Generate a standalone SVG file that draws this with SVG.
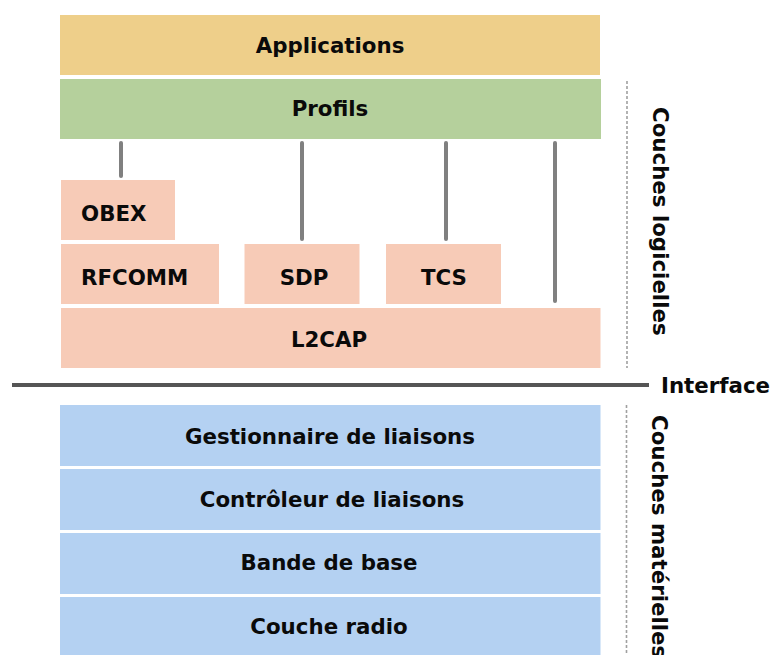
<svg xmlns="http://www.w3.org/2000/svg" width="773" height="655" viewBox="0 0 773 655">
<style>
text{font-family:"DejaVu Sans","Noto Sans",sans-serif;font-weight:bold;font-size:21.33px;fill:#0a0a0a}
.c{text-anchor:middle}
.app{fill:#eecf8a}
.prof{fill:#b5d09c}
.proto{fill:#f7cbb7}
.hw{fill:#b4d1f2}
.conn{stroke:#808080;stroke-width:4;stroke-linecap:round}
.dash{stroke:#a0a0a0;stroke-width:1.6;stroke-dasharray:3,2;fill:none}
</style>
<rect width="773" height="655" fill="#ffffff"/>
<g id="applications"><rect class="app" x="60" y="15" width="540" height="60"/><text class="c" x="330" y="53">Applications</text></g>
<g id="profils"><rect class="prof" x="60" y="79" width="541" height="60"/><text class="c" x="330" y="116">Profils</text></g>
<g id="connectors">
<line class="conn" x1="121" y1="143" x2="121" y2="176"/>
<line class="conn" x1="302" y1="143" x2="302" y2="239"/>
<line class="conn" x1="446" y1="143" x2="446" y2="239"/>
<line class="conn" x1="555" y1="143" x2="555" y2="301"/>
</g>
<g id="obex"><rect class="proto" x="61" y="180" width="114" height="60"/><text x="81" y="220.5">OBEX</text></g>
<g id="rfcomm"><rect class="proto" x="61" y="244" width="158" height="60"/><text x="81" y="285">RFCOMM</text></g>
<g id="sdp"><rect class="proto" x="244.5" y="244" width="115" height="60"/><text class="c" x="304" y="285">SDP</text></g>
<g id="tcs"><rect class="proto" x="386" y="244" width="115" height="60"/><text class="c" x="444" y="285">TCS</text></g>
<g id="l2cap"><rect class="proto" x="61" y="308" width="539.5" height="60"/><text class="c" x="329" y="346.5">L2CAP</text></g>
<g id="logicielles"><line class="dash" x1="627" y1="81" x2="627" y2="368"/><text transform="translate(652.5,107) rotate(90)">Couches logicielles</text></g>
<g id="interface"><line x1="12" y1="385" x2="649" y2="385" stroke="#555555" stroke-width="4"/><text x="661" y="393">Interface</text></g>
<g id="gestionnaire"><rect class="hw" x="60" y="405" width="540.5" height="61"/><text class="c" x="330" y="444">Gestionnaire de liaisons</text></g>
<g id="controleur"><rect class="hw" x="60" y="469" width="540.5" height="61"/><text class="c" x="332" y="506.5">Contrôleur de liaisons</text></g>
<g id="bande"><rect class="hw" x="60" y="533" width="540.5" height="61"/><text class="c" x="329" y="570">Bande de base</text></g>
<g id="radio"><rect class="hw" x="60" y="597" width="540.5" height="61"/><text class="c" x="329" y="634">Couche radio</text></g>
<g id="materielles"><line class="dash" x1="626.5" y1="405" x2="626.5" y2="655"/><text transform="translate(652,415) rotate(90)">Couches matérielles</text></g>
</svg>
